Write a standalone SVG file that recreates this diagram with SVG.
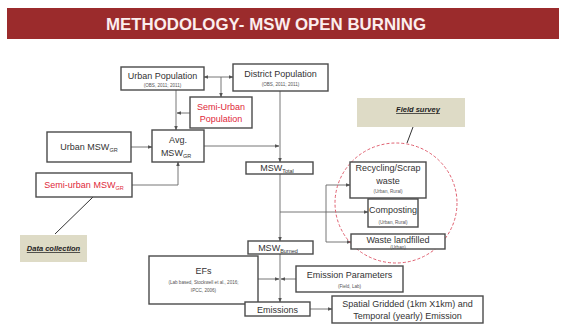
<svg xmlns="http://www.w3.org/2000/svg" width="564" height="327" viewBox="0 0 564 327">
<defs>
<marker id="ah" viewBox="0 0 10 10" refX="9" refY="5" markerWidth="5" markerHeight="5" orient="auto-start-reverse"><path d="M0,1 L10,5 L0,9 z" fill="#555"/></marker>
<style>
.box{fill:#fff;stroke:#4a4a4a;stroke-width:1.4}
.t{font-family:"Liberation Sans",Arial,sans-serif;font-size:9px;fill:#333;text-anchor:middle}
.r{fill:#e0283a}
.s{font-family:"Liberation Sans",Arial,sans-serif;font-size:4.6px;fill:#555;text-anchor:middle}
.sub{font-size:5.5px}
.c{fill:none;stroke:#666;stroke-width:0.9}
.lab{fill:#dedbc6}
.lt{font-family:"Liberation Sans",Arial,sans-serif;font-size:7.5px;font-weight:bold;font-style:italic;text-decoration:underline;fill:#222;text-anchor:middle}
</style>
</defs>
<rect width="564" height="327" fill="#fff"/>
<g id="title">
<rect x="7" y="8" width="552" height="31" fill="#9b2b2c"/>
<text x="266" y="30" font-family="Liberation Sans,Arial,sans-serif" font-size="17" font-weight="bold" fill="#fbeeee" text-anchor="middle" textLength="320" lengthAdjust="spacingAndGlyphs">METHODOLOGY- MSW OPEN BURNING</text>
</g>
<g id="connectors">
<line class="c" x1="204" y1="77" x2="233" y2="77" marker-start="url(#ah)" marker-end="url(#ah)"/>
<line class="c" x1="221" y1="77" x2="221" y2="97" marker-end="url(#ah)"/>
<line class="c" x1="176" y1="90" x2="176" y2="130" marker-end="url(#ah)"/>
<line class="c" x1="190" y1="113" x2="177" y2="113" marker-end="url(#ah)"/>
<line class="c" x1="131" y1="147" x2="152" y2="147" marker-end="url(#ah)"/>
<polyline class="c" points="132,185 178,185 178,162" marker-end="url(#ah)"/>
<line class="c" x1="204" y1="146" x2="279" y2="146" marker-end="url(#ah)"/>
<line class="c" x1="280" y1="91" x2="280" y2="162" marker-end="url(#ah)"/>
<line class="c" x1="280" y1="174" x2="280" y2="241" marker-end="url(#ah)"/>
<line class="c" x1="280" y1="212" x2="368" y2="212" marker-end="url(#ah)"/>
<line class="c" x1="326" y1="185" x2="326" y2="242"/>
<line class="c" x1="326" y1="185" x2="350" y2="185" marker-end="url(#ah)"/>
<line class="c" x1="326" y1="242" x2="351" y2="242" marker-end="url(#ah)"/>
<line class="c" x1="280" y1="254" x2="280" y2="302" marker-end="url(#ah)"/>
<line class="c" x1="258" y1="279" x2="279" y2="279" marker-end="url(#ah)"/>
<line class="c" x1="296" y1="279" x2="281" y2="279" marker-end="url(#ah)"/>
<line class="c" x1="310" y1="309" x2="332" y2="309" marker-end="url(#ah)"/>
<line x1="93" y1="197" x2="55" y2="234" stroke="#333" stroke-width="1"/>
<line x1="413" y1="127" x2="407" y2="143" stroke="#333" stroke-width="1"/>
</g>
<g id="field-circle">
<ellipse cx="396" cy="203" rx="61" ry="60" fill="none" stroke="#e06070" stroke-width="1" stroke-dasharray="3,2"/>
</g>
<g id="urban-population">
<rect class="box" x="121" y="67" width="83" height="23"/>
<text class="t" x="162.5" y="79">Urban Population</text>
<text class="s" x="162.5" y="87">(OBS, 2011; 2011)</text>
</g>
<g id="district-population">
<rect class="box" x="233" y="64" width="95" height="27"/>
<text class="t" x="280.5" y="77">District Population</text>
<text class="s" x="280.5" y="86">(OBS, 2011; 2011)</text>
</g>
<g id="semi-urban-population">
<rect class="box" x="190" y="97" width="62" height="31"/>
<text class="t r" x="221" y="110">Semi-Urban</text>
<text class="t r" x="221" y="122">Population</text>
</g>
<g id="avg-msw">
<rect class="box" x="152" y="130" width="52" height="32"/>
<text class="t" x="178" y="143">Avg.</text>
<text class="t" x="176" y="156">MSW<tspan class="sub" dy="2">GR</tspan></text>
</g>
<g id="urban-msw">
<rect class="box" x="47" y="132" width="84" height="30"/>
<text class="t" x="89" y="150">Urban MSW<tspan class="sub" dy="2">GR</tspan></text>
</g>
<g id="semi-urban-msw">
<rect class="box" x="36" y="173" width="96" height="24"/>
<text class="t r" x="84" y="188">Semi-urban MSW<tspan class="sub" dy="2">GR</tspan></text>
</g>
<g id="data-collection">
<rect class="lab" x="20" y="235" width="67" height="27"/>
<text class="lt" x="53.5" y="251">Data collection</text>
</g>
<g id="field-survey">
<rect class="lab" x="357" y="98" width="108" height="29"/>
<text class="lt" x="418" y="112">Field survey</text>
</g>
<g id="msw-total">
<rect class="box" x="246" y="162" width="67" height="12"/>
<text class="t" x="277" y="171">MSW<tspan class="sub" dy="2">Total</tspan></text>
</g>
<g id="recycling">
<rect class="box" x="350" y="162" width="76" height="36"/>
<text class="t" x="388" y="171">Recycling/Scrap</text>
<text class="t" x="388" y="184">waste</text>
<text class="s" x="388" y="193">(Urban, Rural)</text>
</g>
<g id="composting">
<rect class="box" x="368" y="199" width="50" height="28"/>
<text class="t" x="393" y="213">Composting</text>
<text class="s" x="393" y="224">(Urban, Rural)</text>
</g>
<g id="waste-landfilled">
<rect class="box" x="351" y="234" width="94" height="15"/>
<text class="t" x="398" y="243">Waste landfilled</text>
<text class="s" x="398" y="248.5">(Urban)</text>
</g>
<g id="msw-burned">
<rect class="box" x="248" y="241" width="65" height="13"/>
<text class="t" x="278" y="251">MSW<tspan class="sub" dy="2">Burned</tspan></text>
</g>
<g id="efs">
<rect class="box" x="149" y="256" width="109" height="48"/>
<text class="t" x="203.5" y="274">EFs</text>
<text class="s" x="203.5" y="284">(Lab based, Stockwell et al., 2016;</text>
<text class="s" x="203.5" y="292">IPCC, 2006)</text>
</g>
<g id="emission-parameters">
<rect class="box" x="296" y="266" width="107" height="26"/>
<text class="t" x="349.5" y="278">Emission Parameters</text>
<text class="s" x="349.5" y="288">(Field, Lab)</text>
</g>
<g id="emissions">
<rect class="box" x="245" y="302" width="65" height="14"/>
<text class="t" x="277.5" y="312.5">Emissions</text>
</g>
<g id="spatial">
<rect class="box" x="332" y="296" width="151" height="27"/>
<text class="t" x="407.5" y="306.5">Spatial Gridded (1km X1km) and</text>
<text class="t" x="407.5" y="319">Temporal (yearly) Emission</text>
</g>
</svg>
